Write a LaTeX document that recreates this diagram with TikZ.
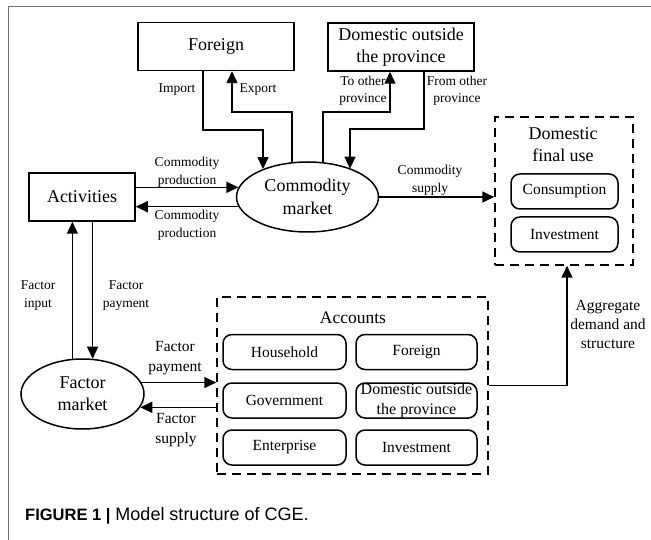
\documentclass[tikz,border=0pt]{standalone}
\usepackage{fontspec}
\setmainfont{Liberation Serif}
\setsansfont{Liberation Sans}
\usetikzlibrary{shapes,arrows.meta,positioning}

\begin{document}
\begin{tikzpicture}[x=1pt,y=-1pt, block/.style = {rectangle, draw, line width=1.5pt, font=\fontsize{18}{22}\selectfont, align=center, inner sep=0pt, minimum height=48pt}, cloud/.style = {draw, ellipse, line width=1.5pt, font=\fontsize{18}{23}\selectfont, align=center, inner sep=0pt, minimum height=70pt}, item/.style = {rectangle, draw, rounded corners=9pt, line width=1.5pt, font=\fontsize{15.5}{20}\selectfont, align=center, inner sep=0pt, minimum height=35pt}, group/.style = {rectangle, draw, dash pattern=on 9pt off 6pt, line width=1.5pt}, line/.style = {draw, line width=1.5pt, -{Triangle[length=12pt,width=11pt]}}, note/.style = {font=\fontsize{13.5}{18}\selectfont, align=center, inner sep=0pt}, bignote/.style = {font=\fontsize{15.5}{20}\selectfont, align=center, inner sep=0pt}]
					\useasboundingbox (0,0) rectangle (651,540);
					\draw[black!55, line width=1pt] (651,6.5) -- (8,6.5) -- (8,540);
					
					\node[block, minimum width=156pt] (fgn) at (216,46.5) {Foreign};
					\node[block, minimum width=146pt] (dom) at (401,47) {Domestic outside\\the province};
					\node[block, minimum width=106pt] (act) at (82,197) {Activities};
					\node[cloud, minimum width=142pt] (cm) at (307.5,197) {Commodity\\market};
					\node[cloud, minimum width=123pt, font=\fontsize{18}{22}\selectfont] (fm) at (82.5,394) {Factor\\market};
					
					\node[group, minimum width=138pt, minimum height=148pt] (fu) at (564,191) {};
					\node[font=\fontsize{18}{22}\selectfont, align=center] (futitle) at (563,145) {Domestic\\final use};
					\node[item, minimum width=107pt] (cons) at (564.5,191.5) {Consumption};
					\node[item, minimum width=107pt] (finv) at (564.5,234.5) {Investment};
					
					\node[group, minimum width=271pt, minimum height=177pt] (acc) at (352.5,385.5) {};
					\node[font=\fontsize{17.5}{20}\selectfont] (acctitle) at (353,318) {Accounts};
					\node[item, minimum width=123pt] (hh) at (284.5,352) {Household};
					\node[item, minimum width=123pt] (gov) at (284.5,400.5) {Government};
					\node[item, minimum width=123pt] (ent) at (284.5,447.5) {Enterprise};
					\node[item, minimum width=121pt] (afgn) at (416.5,352) {Foreign};
					\node[item, minimum width=121pt, font=\fontsize{16}{20}\selectfont] (adom) at (416.5,400.5) {Domestic outside\\the province};
					\node[item, minimum width=121pt] (ainv) at (416.5,447.5) {Investment};
					
					\node[note] (imp) at (177,90) {Import};
					\node[note] (exp) at (258,90) {Export};
					\node[note, font=\fontsize{13.5}{17}\selectfont] (toprov) at (363,90.5) {To other\\province};
					\node[note, font=\fontsize{13.5}{17}\selectfont] (fromprov) at (457,90.5) {From other\\province};
					\node[note] (cprodin) at (187,172.5) {Commodity\\production};
					\node[note] (cprodout) at (187,225) {Commodity\\production};
					\node[note] (csup) at (430,180.5) {Commodity\\supply};
					\node[note] (fin) at (38,296) {Factor\\input};
					\node[note] (fpaydown) at (126,296) {Factor\\payment};
					\node[bignote] (fpay) at (175,358) {Factor\\payment};
					\node[bignote] (fsup) at (176,430) {Factor\\supply};
					\node[bignote, font=\fontsize{15.5}{19}\selectfont] (agg) at (608,324) {Aggregate\\demand and\\structure};
					\node[font=\sffamily\fontsize{18}{20}\selectfont, anchor=base west, inner sep=0pt] (cap) at (25,520) {{\bfseries\fontsize{16.5}{20}\selectfont FIGURE 1 |} Model structure of CGE.};
					
					\coordinate (impbend) at (263,130);
					\coordinate (expbend) at (232,112);
					\coordinate (tobend) at (390,112);
					\coordinate (frombend) at (350,129);
					
					\path[line] ([xshift=-13pt]fgn.south) |- (impbend) -- (cm.148 -| impbend);
					\path[line] (cm.114) |- (expbend) -- (fgn.south -| expbend);
					\path[line] (cm.66) |- (tobend) -- (dom.south -| tobend);
					\path[line] ([xshift=23pt]dom.south) |- (frombend) -- (cm.33 -| frombend);
					\path[line] (cm.172 -| act.east) -- (cm.172);
					\path[line] (cm.188) -- (cm.188 -| act.east);
					\path[line] (cm.east) -- (cm.east -| fu.west);
					\path[line] (fm.106) -- (fm.106 |- act.south);
					\path[line] (act.south -| fm.74) -- (fm.74);
					\path[line] (fm.11) -- (fm.11 -| acc.west);
					\path[line] (acc.west |- fm.347) -- (fm.347);
					\path[line] (acc.east) -| ([xshift=3pt]fu.south);
				\end{tikzpicture}
\end{document}
